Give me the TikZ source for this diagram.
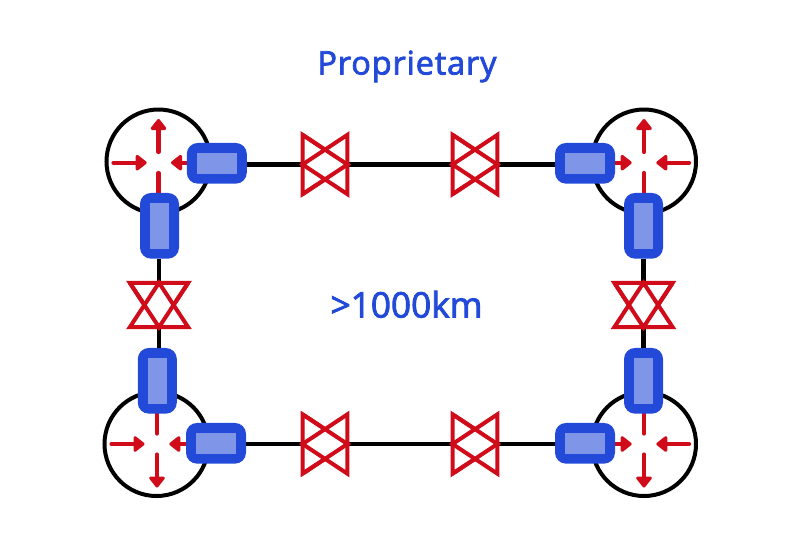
\documentclass[tikz,border=0pt]{standalone}
\usepackage{fontspec}
\setmainfont{Open Sans}
\newfontfamily\titlefont[FakeBold=2.4,LetterSpace=2.6]{Open Sans}
\newfontfamily\distfont[FakeBold=2.4]{Open Sans}
\usetikzlibrary{arrows.meta,calc}
\definecolor{bluemain}{HTML}{2249D8}
\definecolor{bluelight}{HTML}{7F95E8}
\definecolor{redmain}{HTML}{D00C1A}
\tikzset{
  hub/.style={circle,draw=black,line width=4pt,fill=white,minimum size=104pt,inner sep=0pt},
  link/.style={draw=black,line width=4.6pt},
  sig/.style={draw=redmain,line width=4.2pt,line cap=round,-{Triangle[length=12pt,width=18pt,round=false]},fill=redmain},
  stub/.style={draw=redmain,line width=4.2pt,line cap=round},
  hpack/.style={rectangle,rounded corners=11pt,fill=bluemain,minimum width=60pt,minimum height=40.7pt,inner sep=0pt},
  vpack/.style={rectangle,rounded corners=11pt,fill=bluemain,minimum width=39pt,minimum height=65.7pt,inner sep=0pt},
  hcore/.style={rectangle,fill=bluelight,minimum width=40pt,minimum height=20.7pt,inner sep=0pt},
  vcore/.style={rectangle,fill=bluelight,minimum width=19pt,minimum height=45.7pt,inner sep=0pt},
  hvalve/.style={rectangle,minimum width=44.5pt,minimum height=59pt,inner sep=0pt},
  vvalve/.style={rectangle,minimum width=58pt,minimum height=44pt,inner sep=0pt},
  valveline/.style={draw=redmain,fill=white,line width=4pt,miter limit=10},
  title/.style={text=bluemain,anchor=base,font=\titlefont\fontsize{32.5}{38}\selectfont,inner sep=0pt},
  dist/.style={text=bluemain,anchor=base,font=\distfont\fontsize{35.2}{40}\selectfont,inner sep=0pt}
}
\newcommand{\hvalvedraw}[1]{%
  \draw[valveline] (#1.north west) -- (#1.east) -- (#1.south west) -- cycle;
  \draw[valveline] (#1.north east) -- (#1.west) -- (#1.south east) -- cycle;
  \draw[draw=redmain,line width=4pt] (#1.north west) -- (#1.east) -- (#1.south west);}
\newcommand{\vvalvedraw}[1]{%
  \draw[valveline] (#1.north west) -- (#1.south) -- (#1.north east) -- cycle;
  \draw[valveline] (#1.south west) -- (#1.north) -- (#1.south east) -- cycle;
  \draw[draw=redmain,line width=4pt] (#1.north west) -- (#1.south) -- (#1.north east);}
\begin{document}
\begin{tikzpicture}[x=1pt,y=-1pt]
\useasboundingbox (0,0) rectangle (800,550);
% routers
\node[hub] (rtl) at (158.5,161.5) {};
\node[hub] (rtr) at (644,161.5) {};
\node[hub] (rbl) at (156.5,444) {};
\node[hub] (rbr) at (644,444) {};
% red arrows, top left
\coordinate (a1s) at (158.5,152); \coordinate (a1e) at (158.5,119);
\coordinate (a2s) at (113.5,162.7); \coordinate (a2e) at (146.7,162.7);
\coordinate (a3s) at (190,162.7); \coordinate (a3e) at (171,162.7);
\coordinate (a4s) at (158.5,173); \coordinate (a4e) at (158.5,200);
\draw[sig] (a1s) -- (a1e);
\draw[sig] (a2s) -- (a2e);
\draw[sig] (a3s) -- (a3e);
\draw[stub] (a4s) -- (a4e);
% top right
\coordinate (b1s) at (644,152); \coordinate (b1e) at (644,119);
\coordinate (b2s) at (610,162.7); \coordinate (b2e) at (631.7,162.7);
\coordinate (b3s) at (689,162.7); \coordinate (b3e) at (656.3,162.7);
\coordinate (b4s) at (644,173); \coordinate (b4e) at (644,200);
\draw[sig] (b1s) -- (b1e);
\draw[sig] (b2s) -- (b2e);
\draw[sig] (b3s) -- (b3e);
\draw[stub] (b4s) -- (b4e);
% bottom left
\coordinate (c1s) at (157,454.5); \coordinate (c1e) at (157,487.5);
\coordinate (c2s) at (111.5,444); \coordinate (c2e) at (144.5,444);
\coordinate (c3s) at (190,444); \coordinate (c3e) at (169.3,444);
\coordinate (c4s) at (157,433.5); \coordinate (c4e) at (157,405);
\draw[sig] (c1s) -- (c1e);
\draw[sig] (c2s) -- (c2e);
\draw[sig] (c3s) -- (c3e);
\draw[stub] (c4s) -- (c4e);
% bottom right
\coordinate (d1s) at (644,454.5); \coordinate (d1e) at (644,487.5);
\coordinate (d2s) at (610,444); \coordinate (d2e) at (631.7,444);
\coordinate (d3s) at (689,444); \coordinate (d3e) at (656.3,444);
\coordinate (d4s) at (644,433.5); \coordinate (d4e) at (644,405);
\draw[sig] (d1s) -- (d1e);
\draw[sig] (d2s) -- (d2e);
\draw[sig] (d3s) -- (d3e);
\draw[stub] (d4s) -- (d4e);
% transponder packs
\node[hpack] (htl) at (216.8,163.3) {};
\node[hpack] (htr) at (585,163.3) {};
\node[hpack] (hbl) at (216,443.3) {};
\node[hpack] (hbr) at (585,443.3) {};
\node[vpack] (vtl) at (159.5,225.8) {};
\node[vpack] (vtr) at (643.5,225.8) {};
\node[vpack] (vbl) at (157.3,380.8) {};
\node[vpack] (vbr) at (643.5,380.8) {};
\node[hcore] (chtl) at (htl) {};
\node[hcore] (chtr) at (htr) {};
\node[hcore] (chbl) at (hbl) {};
\node[hcore] (chbr) at (hbr) {};
\node[vcore] (cvtl) at (vtl) {};
\node[vcore] (cvtr) at (vtr) {};
\node[vcore] (cvbl) at (vbl) {};
\node[vcore] (cvbr) at (vbr) {};
% valves
\node[hvalve] (t1) at (325,164.5) {};
\node[hvalve] (t2) at (475,164.5) {};
\node[hvalve] (b1) at (325,444) {};
\node[hvalve] (b2) at (475,444) {};
\node[vvalve] (l1) at (159,305) {};
\node[vvalve] (r1) at (643.5,305) {};
% fibre spans
\draw[link] (htl.east |- t1) -- (t1.west);
\draw[link] (t1.east) -- (t2.west);
\draw[link] (t2.east) -- (htr.west |- t2);
\draw[link] (hbl.east |- b1) -- (b1.west);
\draw[link] (b1.east) -- (b2.west);
\draw[link] (b2.east) -- (hbr.west |- b2);
\draw[link] (vtl.south -| l1) -- (l1.north);
\draw[link] (l1.south) -- (vbl.north -| l1);
\draw[link] (vtr.south -| r1) -- (r1.north);
\draw[link] (r1.south) -- (vbr.north -| r1);
\hvalvedraw{t1}
\hvalvedraw{t2}
\hvalvedraw{b1}
\hvalvedraw{b2}
\vvalvedraw{l1}
\vvalvedraw{r1}
% labels
\node[title] (proptitle) at (407,74.5) {Proprietary};
\node[dist] (distlabel) at (406.5,317.5) {>1000km};
\end{tikzpicture}
\end{document}
